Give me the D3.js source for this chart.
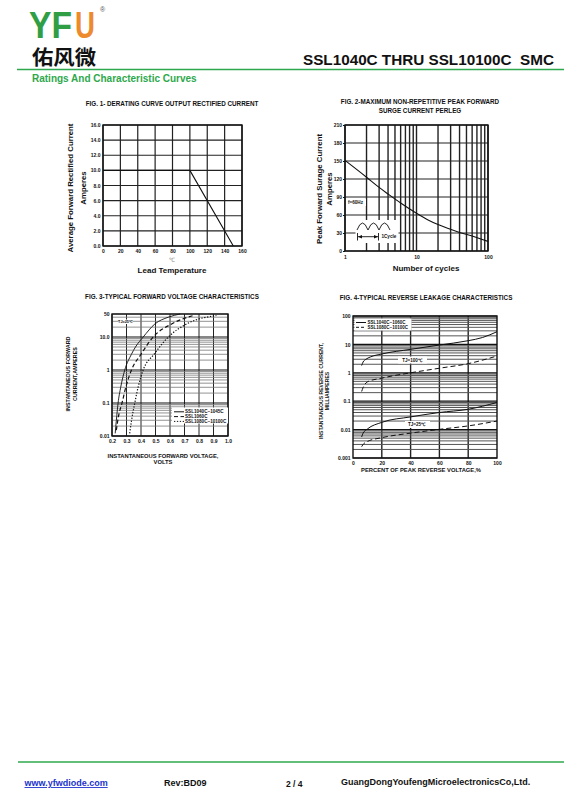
<!DOCTYPE html>
<html>
<head>
<meta charset="utf-8">
<script src="https://cdn.jsdelivr.net/npm/d3@7"></script>
<style>
  body { margin: 0; background: #fff; }
  text { font-family: "Liberation Sans", Arial, sans-serif; font-weight: bold; fill: #111; }
</style>
</head>
<body>
<svg id="page" width="564" height="803"></svg>
<script>
// ---- Fig.1 derating curve
const fig1Temp = [0, 100, 150];
const fig1Amps = [10, 10, 0];
const fig1XTicks = [0, 20, 40, 60, 80, 100, 120, 140, 160];
const fig1YTicks = [0, 2, 4, 6, 8, 10, 12, 14, 16];

// ---- Fig.2 surge current
const fig2Cycles = [1, 2, 3, 4, 6, 10, 15, 20, 40, 60, 100];
const fig2Amps = [151, 123, 106, 95, 80, 63, 51, 44, 31, 25, 16];
const fig2XTicks = [1, 10, 100];
const fig2YTicks = [0, 30, 60, 90, 120, 150, 180, 210];

// ---- Fig.3 forward voltage
const fig3XTicks = [0.2, 0.3, 0.4, 0.5, 0.6, 0.7, 0.8, 0.9, 1.0];
const fig3YTicks = [0.01, 0.1, 1, 10, 50];
const fig3YLabels = ["0.01", "0.1", "1", "10.0", "50"];
const fig3Names = ["SSL1040C~1045C", "SSL1060C", "SSL1080C~10100C"];
const fig3SolidV = [0.222, 0.23, 0.242, 0.26, 0.288, 0.334, 0.362, 0.415, 0.496, 0.588, 0.67];
const fig3SolidI = [0.012, 0.03, 0.1, 0.3, 1, 3, 5, 10, 25, 40, 50];
const fig3DashV = [0.23, 0.245, 0.269, 0.295, 0.334, 0.40, 0.484, 0.611, 0.76];
const fig3DashI = [0.015, 0.04, 0.1, 0.3, 1, 3, 10, 25, 45];
const fig3DotV = [0.322, 0.335, 0.357, 0.38, 0.415, 0.49, 0.588, 0.715, 0.92];
const fig3DotI = [0.012, 0.03, 0.1, 0.3, 1, 3, 10, 25, 45];

// ---- Fig.4 reverse leakage
const fig4XTicks = [0, 20, 40, 60, 80, 100];
const fig4YTicks = [0.001, 0.01, 0.1, 1, 10, 100];
const fig4Names = ["SSL1040C~1060C", "SSL1080C~10100C"];
const fig4HotSolidPct = [6, 7, 9, 12, 20, 40, 60, 80, 90, 100];
const fig4HotSolidMA = [1.8, 2.4, 3.0, 3.6, 4.6, 6.7, 9.5, 13.5, 17.5, 28];
const fig4HotDashPct = [6, 7, 10, 20, 40, 60, 80, 100];
const fig4HotDashMA = [0.22, 0.3, 0.48, 0.65, 1.0, 1.45, 2.1, 3.9];
const fig4ColdSolidPct = [6, 7, 10, 20, 40, 60, 80, 100];
const fig4ColdSolidMA = [0.0055, 0.0075, 0.0105, 0.018, 0.028, 0.04, 0.052, 0.09];
const fig4ColdDashPct = [6, 7, 10, 20, 40, 60, 80, 100];
const fig4ColdDashMA = [0.0025, 0.003, 0.0038, 0.0052, 0.0075, 0.0102, 0.0135, 0.02];

const svg = d3.select("#page");
const green = "#2ea84c";

// ---------- page header / footer
svg.append("text").attr("x", 29).attr("y", 38).attr("font-size", 36)
  .attr("textLength", 43).attr("lengthAdjust", "spacingAndGlyphs")
  .style("fill", "#2f9e45").text("YF");
svg.append("text").attr("x", 75).attr("y", 38).attr("font-size", 36)
  .attr("textLength", 20).attr("lengthAdjust", "spacingAndGlyphs")
  .style("fill", "#ee8a2e").text("U");
svg.append("text").attr("x", 100).attr("y", 12).attr("font-size", 7)
  .style("font-weight", "normal").style("fill", "#555").text("®");
svg.append("text").attr("x", 32).attr("y", 65).attr("font-size", 20)
  .attr("textLength", 64).attr("lengthAdjust", "spacingAndGlyphs")
  .style("font-family", "'Noto Sans CJK SC'").style("font-weight", "bold").text("佑风微");
svg.append("text").attr("x", 554).attr("y", 65).attr("font-size", 15)
  .attr("text-anchor", "end").style("white-space", "pre")
  .attr("textLength", 251).attr("lengthAdjust", "spacingAndGlyphs")
  .text("SSL1040C THRU SSL10100C  SMC");
svg.append("line").attr("x1", 17).attr("x2", 564).attr("y1", 69.5).attr("y2", 69.5)
  .attr("stroke", green).attr("stroke-width", 1.5);
svg.append("text").attr("x", 32).attr("y", 82).attr("font-size", 10)
  .style("fill", green).text("Ratings And Characteristic Curves");

svg.append("line").attr("x1", 18).attr("x2", 564).attr("y1", 762).attr("y2", 762)
  .attr("stroke", green).attr("stroke-width", 1.5);
svg.append("text").attr("x", 24.5).attr("y", 786).attr("font-size", 9)
  .style("fill", "#2233cc").style("text-decoration", "underline").text("www.yfwdiode.com");
svg.append("text").attr("x", 164).attr("y", 786).attr("font-size", 9).text("Rev:BD09");
svg.append("text").attr("x", 286).attr("y", 787).attr("font-size", 8.5).text("2 / 4");
svg.append("text").attr("x", 341).attr("y", 785).attr("font-size", 9)
  .text("GuangDongYoufengMicroelectronicsCo,Ltd.");

// ---------- helpers
function txt(x, y, s, size, opts = {}) {
  const t = svg.append("text").attr("x", x).attr("y", y).attr("font-size", size)
    .attr("text-anchor", opts.anchor || "middle").text(s);
  if (opts.rotate) t.attr("transform", `rotate(-90,${x},${y})`);
  return t;
}

function whiteBox(x, y, w, h) {
  svg.append("rect").attr("x", x).attr("y", y).attr("width", w).attr("height", h).attr("fill", "#fff");
}

function panel(c) {
  const g = svg.append("g");
  const [x0, x1] = c.x.range(), [y0, y1] = c.y.range();
  g.selectAll(".vg").data(c.xGrid).join("line")
    .attr("x1", d => c.x(d)).attr("x2", d => c.x(d)).attr("y1", y0).attr("y2", y1)
    .attr("stroke", c.vColor || "#222").attr("stroke-width", c.vWidth || 1.2);
  g.selectAll(".hg").data(c.yGrid).join("line")
    .attr("x1", x0).attr("x2", x1).attr("y1", d => c.y(d)).attr("y2", d => c.y(d))
    .attr("stroke", d => c.hColor ? c.hColor(d) : "#222")
    .attr("stroke-width", d => c.hWidth ? c.hWidth(d) : 1.2);
  g.append("rect").attr("x", x0).attr("y", y1).attr("width", x1 - x0).attr("height", y0 - y1)
    .attr("fill", "none").attr("stroke", "#111").attr("stroke-width", 1.4);

  const ax = g.append("g").attr("transform", `translate(0,${y0})`)
    .call(d3.axisBottom(c.x).tickValues(c.xTicks).tickFormat(c.xFormat).tickSize(0).tickPadding(c.xPad || 3));
  const ay = g.append("g").attr("transform", `translate(${x0},0)`)
    .call(d3.axisLeft(c.y).tickValues(c.yTicks).tickFormat(c.yFormat).tickSize(c.yTick || 0).tickPadding(c.yPad || 2.5));
  [ax, ay].forEach(a => {
    a.select(".domain").remove();
    a.selectAll("text").attr("font-size", 5).style("font-family", "'Liberation Sans', Arial").style("font-weight", "bold").attr("fill", "#111");
    a.selectAll("line").attr("stroke", "#111");
  });
  return g;
}

function curve(g, x, y, xs, ys, dash, width, straight) {
  const pts = xs.map((v, i) => [v, ys[i]]);
  g.append("path").datum(pts)
    .attr("d", d3.line().x(d => x(d[0])).y(d => y(d[1])).curve(straight ? d3.curveLinear : d3.curveMonotoneX))
    .attr("fill", "none").attr("stroke", "#111").attr("stroke-width", width || 1)
    .attr("stroke-dasharray", dash || null);
}

// ---------- Fig.1
{
  const x = d3.scaleLinear().domain([0, 160]).range([103, 242]);
  const y = d3.scaleLinear().domain([0, 16]).range([246, 125]);
  const g = panel({ x, y, xGrid: fig1XTicks, yGrid: fig1YTicks, xTicks: fig1XTicks, yTicks: fig1YTicks,
    xFormat: d3.format("d"), yFormat: d3.format(".1f") });
  curve(g, x, y, fig1Temp, fig1Amps, null, 1.1, true);
  txt(172, 106, "FIG. 1- DERATING CURVE OUTPUT RECTIFIED CURRENT", 6.3);
  txt(172, 262, "℃", 6).style("font-weight", "normal").style("fill", "#888");
  txt(172, 273, "Lead Temperature", 8);
  txt(73, 188, "Average Forward Rectified Current", 7.8, { rotate: true });
  txt(85.5, 188, "Amperes", 7.8, { rotate: true });
}

// ---------- Fig.2
{
  const x = d3.scaleLog().domain([1, 100]).range([345, 488]);
  const y = d3.scaleLinear().domain([0, 210]).range([251, 125]);
  const g = panel({ x, y, xGrid: x.ticks(), yGrid: fig2YTicks, xTicks: fig2XTicks, yTicks: fig2YTicks,
    xFormat: d3.format("d"), yFormat: d3.format("d"), vWidth: 1.4, xPad: 4, yTick: 2, yPad: 1 });
  curve(g, x, y, fig2Cycles, fig2Amps, null, 1.1);
  txt(420, 103.5, "FIG. 2-MAXIMUM NON-REPETITIVE PEAK FORWARD", 6.3);
  txt(420, 112.5, "SURGE CURRENT PERLEG", 6.3);
  txt(426, 271, "Number of cycles", 8);
  txt(322, 189, "Peak Forward Surage Current", 7.8, { rotate: true });
  txt(332, 189, "Amperes", 7.8, { rotate: true });

  whiteBox(347, 199, 19, 7);
  txt(348, 204, "f=60Hz", 4.6, { anchor: "start" });
  whiteBox(355.5, 220, 43, 23);
  const p = d3.path();
  p.moveTo(357, 230);
  [357, 368, 379].forEach(h => { p.quadraticCurveTo(h + 5.5, 216, h + 11, 230); });
  svg.append("path").attr("d", p.toString()).attr("fill", "none").attr("stroke", "#111").attr("stroke-width", 0.9);
  svg.append("line").attr("x1", 358).attr("x2", 378).attr("y1", 236.7).attr("y2", 236.7).attr("stroke", "#111").attr("stroke-width", 0.9);
  [357.5, 378.5].forEach(bx => svg.append("line").attr("x1", bx).attr("x2", bx).attr("y1", 233).attr("y2", 240.5).attr("stroke", "#111").attr("stroke-width", 0.9));
  svg.append("path").attr("d", "M358,236.7 L362,235 L362,238.4 Z M378,236.7 L374,235 L374,238.4 Z").attr("fill", "#111");
  txt(381.5, 238.3, "1Cycle", 4.6, { anchor: "start" });
}

// ---------- Fig.3
{
  const x = d3.scaleLinear().domain([0.2, 1.0]).range([112, 228]);
  const y = d3.scaleLog().domain([0.01, 50]).range([436, 314]);
  const decade = d => Math.abs(Math.log10(d) - Math.round(Math.log10(d))) < 1e-6;
  const g = panel({ x, y, xGrid: fig3XTicks, yGrid: y.ticks(), xTicks: fig3XTicks, yTicks: fig3YTicks,
    xFormat: d3.format(".1f"), yFormat: (d, i) => fig3YLabels[i], vWidth: 1,
    hColor: d => decade(d) ? "#111" : "#777", hWidth: d => decade(d) ? 1.1 : 0.8 });
  curve(g, x, y, fig3SolidV, fig3SolidI, null, 0.9);
  curve(g, x, y, fig3DashV, fig3DashI, "4,2.5", 1.2);
  curve(g, x, y, fig3DotV, fig3DotI, "1.3,1.6", 1.2);
  txt(172, 298.5, "FIG. 3-TYPICAL FORWARD VOLTAGE CHARACTERISTICS", 6.3);
  txt(163, 457.5, "INSTANTANEOUS FORWARD VOLTAGE,", 5.8);
  txt(163, 464, "VOLTS", 5.8);
  txt(70, 374, "INSTANTANEOUS FORWARD", 5.4, { rotate: true });
  txt(76.5, 374, "CURRENT,AMPERES", 5.4, { rotate: true });

  whiteBox(118.5, 319.5, 14, 4.5);
  txt(125.5, 323.4, "TJ=25℃", 3.8);
  whiteBox(172, 407.5, 56, 16);
  const dashes = [null, "4,2.5", "1.3,1.6"];
  fig3Names.forEach((n, i) => {
    const ly = 411.8 + i * 4.8;
    svg.append("line").attr("x1", 174).attr("x2", 184).attr("y1", ly).attr("y2", ly)
      .attr("stroke", "#111").attr("stroke-width", 1).attr("stroke-dasharray", dashes[i]);
    txt(185, ly + 1.6, n, 4.6, { anchor: "start" });
  });
}

// ---------- Fig.4
{
  const x = d3.scaleLinear().domain([0, 100]).range([353, 497]);
  const y = d3.scaleLog().domain([0.001, 100]).range([458, 316]);
  const decade = d => Math.abs(Math.log10(d) - Math.round(Math.log10(d))) < 1e-6;
  const g = panel({ x, y, xGrid: [20, 40, 60, 80], yGrid: y.ticks(), xTicks: fig4XTicks, yTicks: fig4YTicks,
    xFormat: d3.format("d"), yFormat: d => String(d), vWidth: 1.4,
    hColor: d => decade(d) ? "#111" : "#555", hWidth: d => decade(d) ? 1.2 : 1 });
  curve(g, x, y, fig4HotSolidPct, fig4HotSolidMA, null, 1);
  curve(g, x, y, fig4HotDashPct, fig4HotDashMA, "5,3", 1);
  curve(g, x, y, fig4ColdSolidPct, fig4ColdSolidMA, null, 1);
  curve(g, x, y, fig4ColdDashPct, fig4ColdDashMA, "5,3", 1);
  txt(426, 299.5, "FIG. 4-TYPICAL REVERSE LEAKAGE CHARACTERISTICS", 6.3);
  txt(421, 471.5, "PERCENT OF PEAK REVERSE VOLTAGE,%", 5.8);
  txt(322.5, 391, "INSTANTANEOUS REVERSE CURRENT,", 5.1, { rotate: true });
  txt(329, 391, "MILLIAMPERES", 5.1, { rotate: true });

  whiteBox(398, 356.5, 29, 7);
  txt(412.5, 361.8, "TJ=100℃", 4.6);
  whiteBox(405, 421, 25, 7);
  txt(417, 426.3, "TJ=25℃", 4.6);
  whiteBox(354.5, 318.5, 57, 12);
  [null, "3,2"].forEach((dash, i) => {
    const ly = 322.5 + i * 4.8;
    svg.append("line").attr("x1", 356).attr("x2", 366).attr("y1", ly).attr("y2", ly)
      .attr("stroke", "#111").attr("stroke-width", 1).attr("stroke-dasharray", dash);
    txt(367.5, ly + 1.6, fig4Names[i], 4.5, { anchor: "start" });
  });
}
</script>
</body>
</html>
